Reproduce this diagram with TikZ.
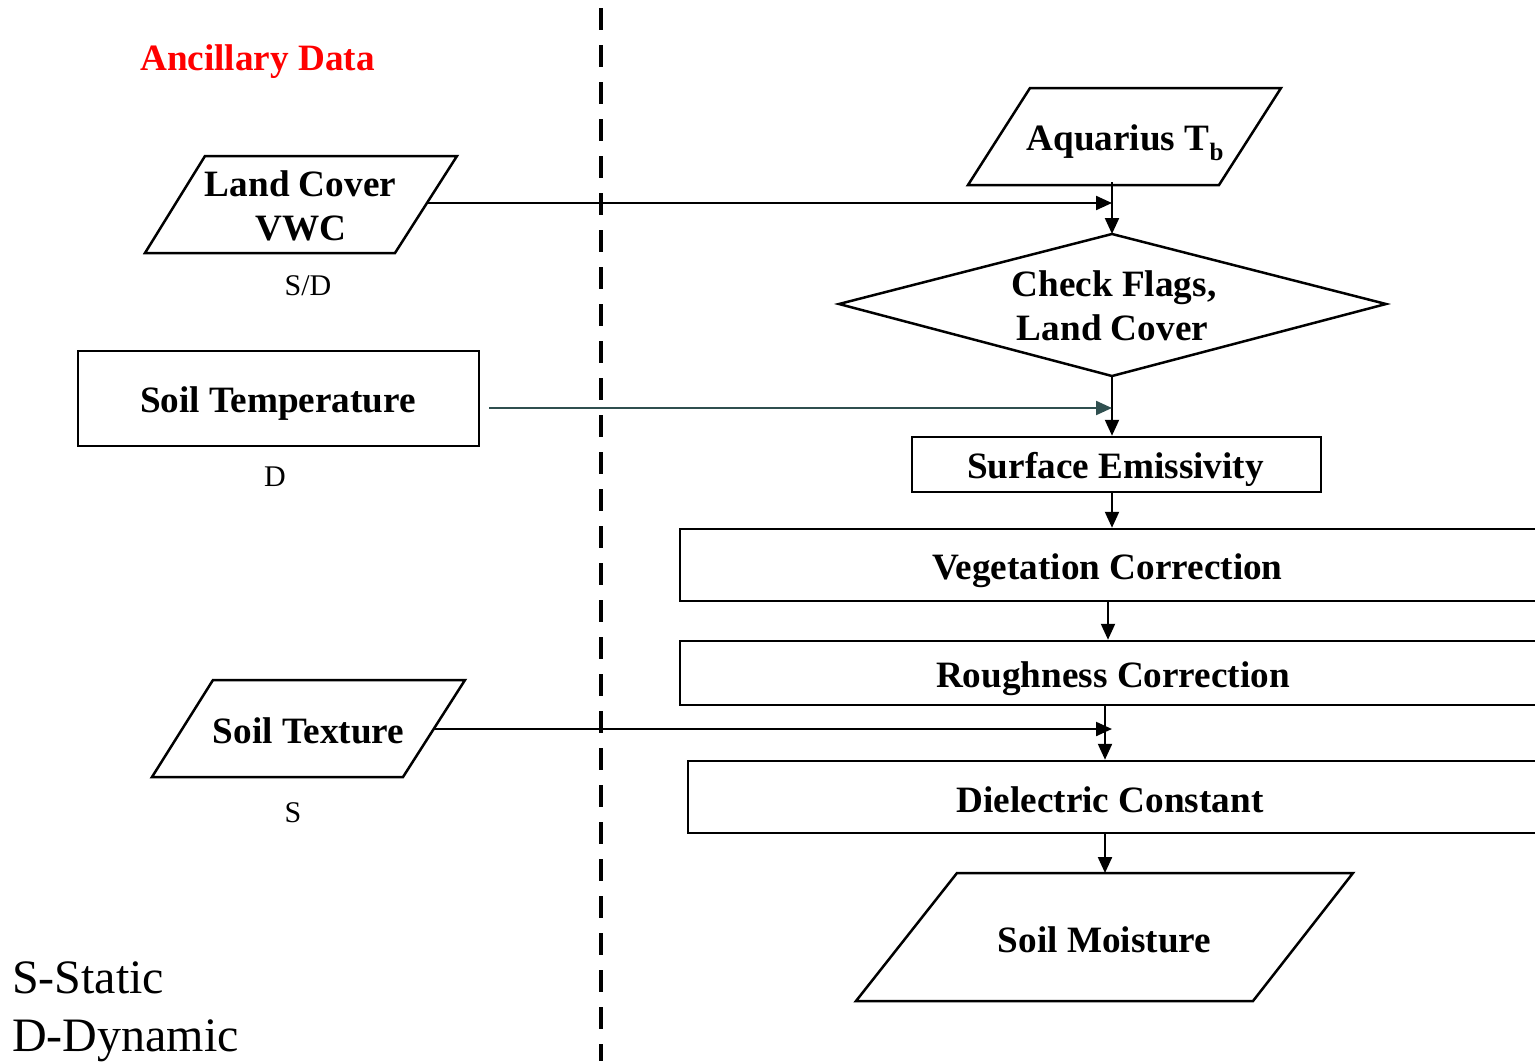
\documentclass[tikz,border=0pt]{standalone}
\usepackage{fontspec}
\setmainfont{Liberation Serif}
\usetikzlibrary{arrows.meta}
\definecolor{tealdark}{RGB}{47,79,79}
\definecolor{ancred}{RGB}{255,0,0}
\begin{document}
\begin{tikzpicture}[x=1pt,y=-1pt,
  box/.style={draw,line width=2.5pt,inner sep=0pt,rectangle},
  shp/.style={draw,line width=2.5pt,line join=miter},
  lbl/.style={font=\fontsize{37.2}{44}\selectfont\bfseries,inner sep=0pt,anchor=base},
  note/.style={font=\fontsize{30}{36}\selectfont,inner sep=0pt,anchor=base},
  legend/.style={font=\fontsize{48}{56}\selectfont,inner sep=0pt,anchor=base west},
  arr/.style={line width=2.2pt,-{Triangle[length=16pt,width=14pt]}}
]
\useasboundingbox (0,0) rectangle (1535,1061);
\clip (0,0) rectangle (1535,1061);

% divider
\draw[line width=4.5pt,dash pattern=on 22pt off 15pt] (601,8) coordinate (divtop) -- (601,1061) coordinate (divbot);

% title
\node[lbl,text=ancred] (anc) at (257.5,70) {Ancillary Data};

% Land cover parallelogram
\coordinate (lcA) at (205,156); \coordinate (lcB) at (457,156);
\coordinate (lcC) at (395,253); \coordinate (lcD) at (145,253);
\draw[shp] (lcA) -- (lcB) -- (lcC) -- (lcD) -- cycle;
\node[lbl] (lc1) at (300.5,196) {Land Cover};
\node[lbl] (lc2) at (301,240) {VWC};
\node[note] (sd) at (308,295) {S/D};
\coordinate (lcout) at (427,203);

% Soil temperature
\node[box,minimum width=401pt,minimum height=95pt] (st) at (278.5,398.5) {};
\node[lbl] (stt) at (278,412) {Soil Temperature};
\node[note] (dd) at (275,486) {D};
\coordinate (stout) at (489,408);

% Soil texture
\coordinate (txA) at (213,680); \coordinate (txB) at (465,680);
\coordinate (txC) at (403,777); \coordinate (txD) at (152,777);
\draw[shp] (txA) -- (txB) -- (txC) -- (txD) -- cycle;
\node[lbl] (txt) at (308.5,743) {Soil Texture};
\node[note] (ss) at (293,822) {S};
\coordinate (txout) at (434,729);

% Aquarius Tb
\coordinate (aqA) at (1030,88); \coordinate (aqB) at (1281,88);
\coordinate (aqC) at (1219,185); \coordinate (aqD) at (968,185);
\draw[shp] (aqA) -- (aqB) -- (aqC) -- (aqD) -- cycle;
\node[lbl] (aqt) at (1125,150) {Aquarius T\raisebox{-0.28em}{\fontsize{25}{25}\selectfont b}};
\coordinate (aqout) at (1112,182);

% Diamond
\coordinate (dmW) at (839,304); \coordinate (dmN) at (1112,234);
\coordinate (dmE) at (1386,304); \coordinate (dmS) at (1112,376);
\draw[shp] (dmW) -- (dmN) -- (dmE) -- (dmS) -- cycle;
\node[lbl] (dm1) at (1114,296) {Check Flags,};
\node[lbl] (dm2) at (1112.5,340) {Land Cover};

% Processing boxes
\node[box,minimum width=409pt,minimum height=55pt] (se) at (1116.5,464.5) {};
\node[lbl] (set) at (1115.5,478) {Surface Emissivity};
\node[box,minimum width=880pt,minimum height=72pt] (vc) at (1120,565) {};
\node[lbl] (vct) at (1107.5,579) {Vegetation Correction};
\node[box,minimum width=880pt,minimum height=64pt] (rc) at (1120,673) {};
\node[lbl] (rct) at (1113,687) {Roughness Correction};
\node[box,minimum width=872pt,minimum height=72pt] (dc) at (1124,797) {};
\node[lbl] (dct) at (1110,812) {Dielectric Constant};

% Soil moisture
\coordinate (smA) at (957,873); \coordinate (smB) at (1353,873);
\coordinate (smC) at (1253,1001); \coordinate (smD) at (856,1001);
\draw[shp] (smA) -- (smB) -- (smC) -- (smD) -- cycle;
\node[lbl] (smt) at (1104.5,952) {Soil Moisture};

% legend
\node[legend] (l1) at (12,993) {S-Static};
\node[legend] (l2) at (12,1051) {D-Dynamic};

% connectors
\coordinate (xa) at (1112,0);
\coordinate (xb) at (1108,0);
\coordinate (xc) at (1105,0);
\draw[arr] (aqout) -- (dmN);
\draw[arr] (lcout) -- (lcout -| xa);
\draw[arr] (dmS) -- (se.north -| xa);
\draw[arr,tealdark] (stout) -- (stout -| xa);
\draw[arr] (se.south -| xa) -- (vc.north -| xa);
\draw[arr] (vc.south -| xb) -- (rc.north -| xb);
\draw[arr] (rc.south -| xc) -- (dc.north -| xc);
\draw[arr] (txout) -- (txout -| xa);
\draw[arr] (dc.south -| xc) -- (smA -| xc);
\end{tikzpicture}
\end{document}
